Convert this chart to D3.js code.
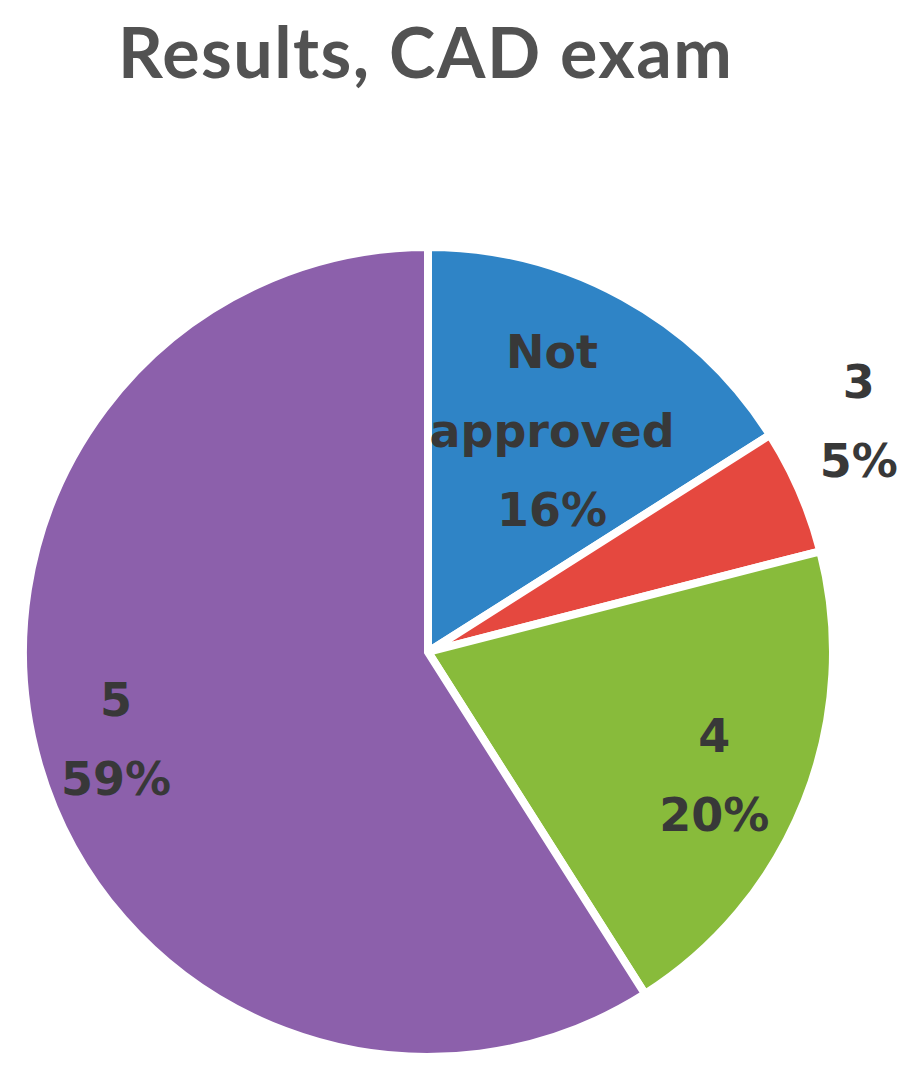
<!DOCTYPE html>
<html>
<head>
<meta charset="utf-8">
<script src="https://cdn.jsdelivr.net/npm/d3@7"></script>
<style>
  html, body { margin: 0; padding: 0; background: #fff; }
</style>
</head>
<body>
<svg id="chart" width="917" height="1085"></svg>
<script>
const categories = ["Not approved", "3", "4", "5"];
const values = [16, 5, 20, 59];
const labelLines = [["Not", "approved", "16%"], ["3", "5%"], ["4", "20%"], ["5", "59%"]];
const colors = ["#2f84c6", "#e5483f", "#88bb3b", "#8c60ab"];
const title = "Results, CAD exam";

const svg = d3.select("#chart");
const cx = 428, cy = 652, R = 405;

// Title
svg.append("text")
  .attr("x", 118).attr("y", 78)
  .attr("font-family", "Lato, 'Open Sans', sans-serif")
  .attr("font-weight", "bold")
  .attr("font-size", 70)
  .attr("fill", "#525252")
  .attr("textLength", 614)
  .attr("lengthAdjust", "spacing")
  .text(title);

const color = d3.scaleOrdinal().domain(categories).range(colors);
const pie = d3.pie().sort(null).value(d => d.value);
const data = categories.map((c, i) => ({ name: c, value: values[i], lines: labelLines[i] }));
const arcs = pie(data);
const arc = d3.arc().innerRadius(0).outerRadius(R);

const g = svg.append("g").attr("transform", `translate(${cx},${cy})`);
g.selectAll("path.slice").data(arcs).enter().append("path")
  .attr("class", "slice")
  .attr("d", arc)
  .attr("fill", d => color(d.data.name))
  .attr("stroke", "#fff")
  .attr("stroke-width", 8)
  .attr("stroke-linejoin", "miter");

// Label placement (layout): radius fraction and angle offset (deg) from slice middle
const labelRadius = [0.626, 1.206, 0.77, 0.80];
const labelAngleOffset = [0.5, -4.7, 1.8, 0.6];
const lineH = 79;
arcs.forEach((a, i) => {
  const mid = (a.startAngle + a.endAngle) / 2 + labelAngleOffset[i] * Math.PI / 180;
  const r = R * labelRadius[i];
  const x = Math.sin(mid) * r;
  const y = -Math.cos(mid) * r;
  const lines = a.data.lines;
  const n = lines.length;
  const txt = g.append("text")
    .attr("text-anchor", "middle")
    .attr("font-family", "'DejaVu Sans', Verdana, sans-serif")
    .attr("font-weight", "bold")
    .attr("font-size", 46)
    .attr("fill", "#383838");
  lines.forEach((s, k) => {
    txt.append("tspan")
      .attr("x", x)
      .attr("y", y + (k - (n - 1) / 2) * lineH + 16)
      .text(s);
  });
});
</script>
</body>
</html>
